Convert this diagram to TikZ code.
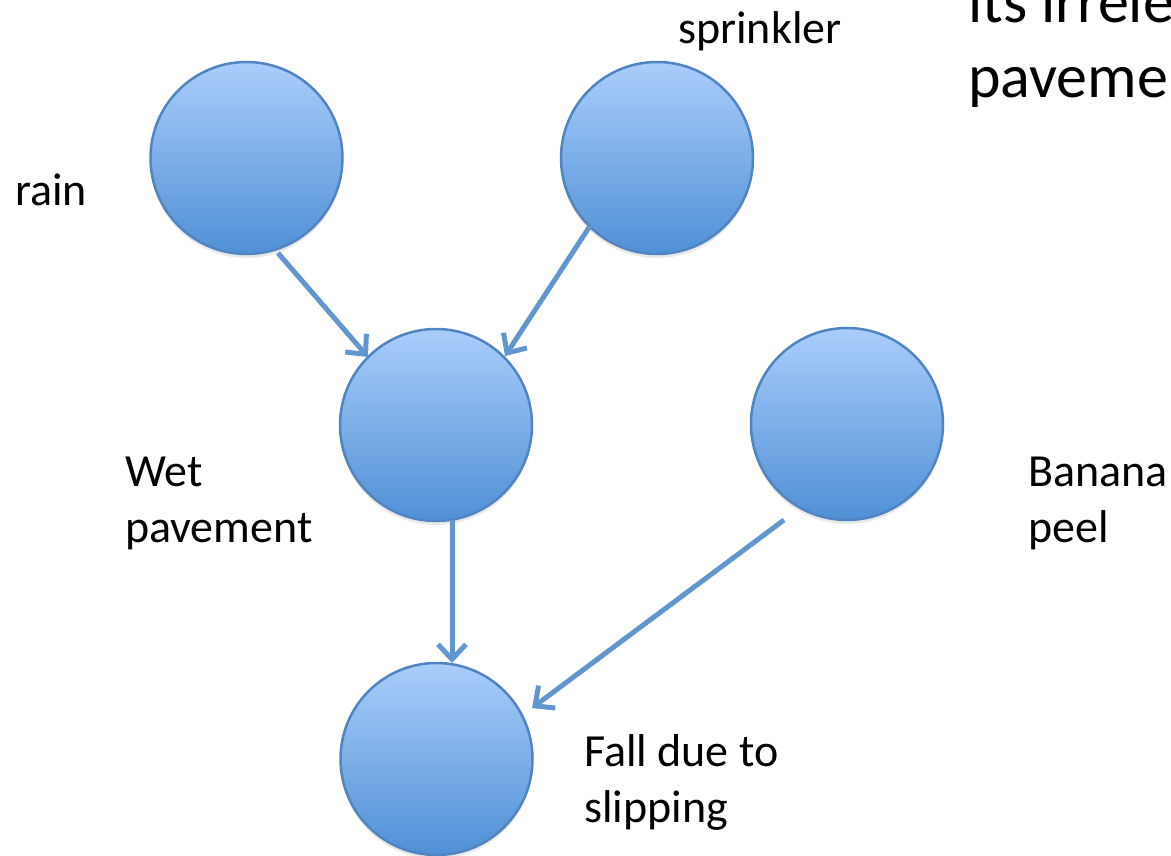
\documentclass[tikz,border=0pt]{standalone}
\usepackage{fontspec}
\setmainfont{Carlito}
\usetikzlibrary{arrows.meta,shadows}
\definecolor{ballTop}{RGB}{170,205,251}
\definecolor{ballBot}{RGB}{80,144,214}
\definecolor{ballEdge}{RGB}{80,132,194}
\definecolor{edgeBlue}{RGB}{97,150,207}
\tikzset{
  ball/.style={circle, minimum size=192pt, inner sep=0pt, draw=ballEdge, line width=2.5pt,
    top color=ballTop, bottom color=ballBot,
    drop shadow={opacity=0.18, shadow xshift=0pt, shadow yshift=-4pt}},
  % multi-line labels: the base anchor sits on the last line
  lbl/.style={font=\fontsize{46}{56}\selectfont, align=left, anchor=base west, inner sep=0pt},
  big/.style={font=\fontsize{62}{75}\selectfont, align=left, anchor=base west, inner sep=0pt},
  link/.style={draw=edgeBlue, line width=5pt,
    -{Straight Barb[length=15pt, width=28pt, line width=5pt]}},
}
\begin{document}
\begin{tikzpicture}[x=1pt, y=-1pt]
  \useasboundingbox (0,0) rectangle (1171,856);
  \clip (0,0) rectangle (1171,856);

  % causal nodes
  \node[ball] (rain)   at (246.5,158) {};
  \node[ball] (sprink) at (657,158)   {};
  \node[ball] (wet)    at (436,425)   {};
  \node[ball] (banana) at (847,424)   {};
  \node[ball] (fall)   at (436.5,759) {};

  % labels
  \node[lbl] (lrain)   at (15,205)   {rain};
  \node[lbl] (lsprink) at (678,44)   {sprinkler};
  \node[lbl] (lwet)    at (125,542)  {Wet\\pavement};
  \node[lbl] (lbanana) at (1028,542) {Banana\\peel};
  \node[lbl] (lfall)   at (584,822)  {Fall due to\\slipping};
  \node[big] (note)    at (968,98)   {its irrelevant\\pavement};

  % dependencies
  \draw[link] ([shift={(31.5,95)}]rain.center)   -- ([shift={(-68,-68)}]wet.center);
  \draw[link] ([shift={(-67,68)}]sprink.center)  -- ([shift={(69,-69)}]wet.center);
  \draw[link] ([shift={(16,95)}]wet.center)      -- ([shift={(15.5,-96)}]fall.center);
  \draw[link] ([shift={(-63,96)}]banana.center)  -- ([shift={(95.5,-51)}]fall.center);
\end{tikzpicture}
\end{document}
